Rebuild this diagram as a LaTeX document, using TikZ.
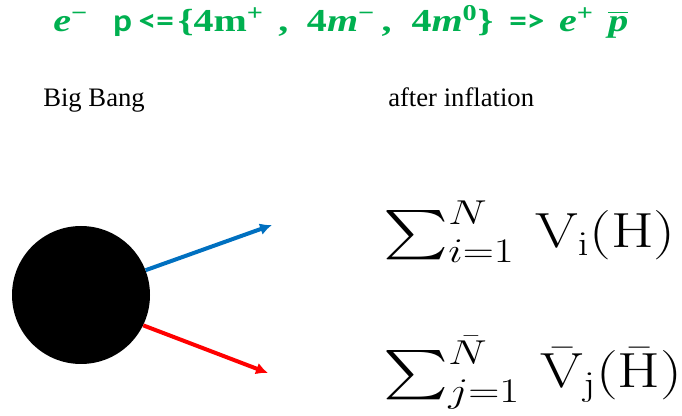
\RequirePackage{fix-cm}
\documentclass[tikz,border=0pt]{standalone}
\usepackage{amsmath}
\usepackage{amssymb}
\usepackage{graphicx}
\usepackage[no-math]{fontspec}
\setmainfont{Liberation Serif}
\newfontfamily\titleserif{Liberation Serif}[FakeStretch = 1.25]
\newfontfamily\titlefont{Carlito}[FakeStretch = 1.1]
\usepackage{tikz}
\usetikzlibrary{arrows, arrows.meta}
\definecolor{titlegreen}{RGB}{0,176,80}
\definecolor{rayblue}{RGB}{0,112,192}
\definecolor{rayred}{RGB}{255,0,0}
\tikzset{ball/.style = {shape = circle, fill = black, minimum size = 103.5pt, inner sep = 0pt}}
\tikzset{ray/.style = {line width = 3pt, -{Latex[length = 9pt, width = 9pt]}}}
\tikzset{tag/.style = {font = \fontsize{20}{24}\selectfont, inner sep = 0pt}}
\tikzset{formula/.style = {font = \fontsize{37}{40}\selectfont, inner sep = 0pt}}
\tikzset{heading/.style = {font = \titleserif\fontsize{24}{28}\selectfont\bfseries, color = titlegreen, inner sep = 0pt}}
\newcommand{\up}[1]{\textsuperscript{\fontsize{17}{17}\selectfont #1}}
\newcommand{\wide}[1]{\scalebox{1.25}[1]{#1}}
\newcommand{\reaction}{\textit{e}\up{\textminus}\hspace{19pt}{\titlefont p\hspace{5pt}\textless=}\hspace{3pt}\{4m\up{+}\hspace{11pt},\hspace{14pt}4\textit{m}\up{\textminus}\hspace{5pt},\hspace{15pt}4\textit{m}\up{0}\}\hspace{12pt}{\titlefont =\textgreater}\hspace{11pt}\textit{e}\up{+}\hspace{11pt}$\overline{\mbox{\textit{p}}}$}

\begin{document}
\begin{tikzpicture}[x = 0.75pt, y = -0.75pt]
				\useasboundingbox (0, 0) rectangle (682, 416);
				\node[heading, anchor = base west] (title) at (53, 32) {\reaction};
				\node[tag, anchor = base west] (bigbang) at (43, 107) {Big Bang};
				\node[tag, anchor = base west] (inflation) at (388, 107) {after inflation};
				\node[ball] (bang) at (81, 295) {};
				\coordinate (up) at (272, 225);
				\coordinate (down) at (268, 373);
				\draw[ray, rayblue] (bang.21) to (up);
				\draw[ray, rayred] (bang.-26) to (down);
				\node[formula, anchor = base west] (matter) at (383, 248)
					{\wide{$\textstyle\sum_{i=1}^{N}\,\mathrm{V}_{\mathrm{i}}(\mathrm{H})$}};
				\node[formula, anchor = base west] (antimatter) at (383, 388)
					{\wide{$\textstyle\sum_{j=1}^{\bar{N}}\,\bar{\mathrm{V}}_{\mathrm{j}}(\bar{\mathrm{H}})$}};
			\end{tikzpicture}
\end{document}
